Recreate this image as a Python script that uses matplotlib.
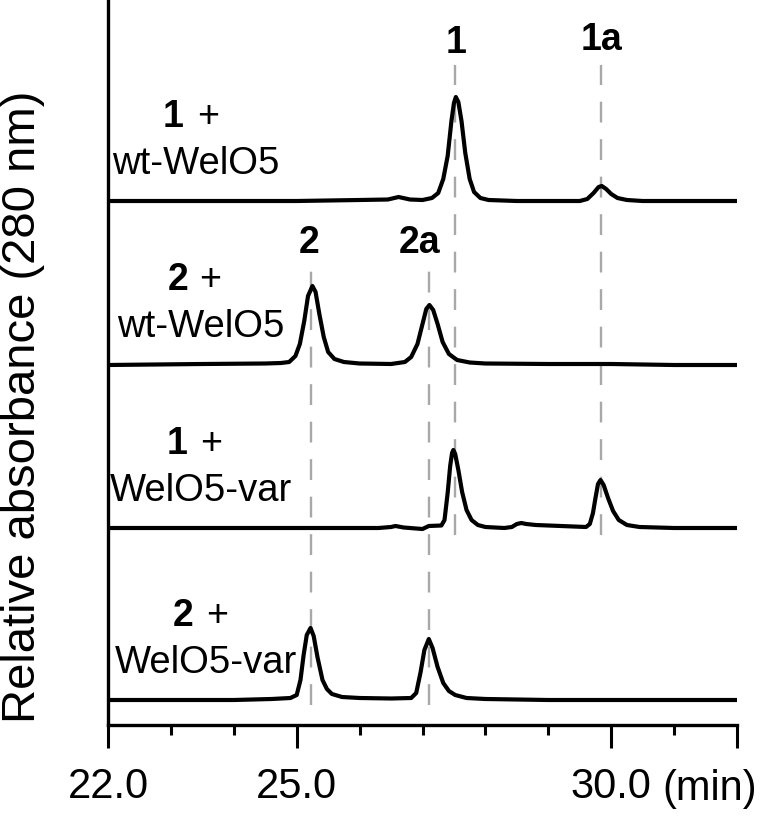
import matplotlib
matplotlib.use('Agg')
import matplotlib.pyplot as plt

plt.rcParams['font.family'] = ['Liberation Sans', 'DejaVu Sans']
plt.rcParams['lines.scale_dashes'] = False
plt.rcParams['axes.linewidth'] = 2.4
plt.rcParams['text.color'] = 'k'

# retention time (min) and relative absorbance of each run
t_1wt = [22.0, 23.5, 25.0, 26.0, 26.45, 26.62, 26.8, 27.0, 27.15, 27.25, 27.33, 27.40, 27.46, 27.50, 27.53, 27.57,
         27.62, 27.68, 27.75, 27.82, 27.92, 28.05, 28.5, 29.0, 29.5, 29.62, 29.72, 29.80, 29.85, 29.92, 30.0, 30.1,
         30.25, 30.5, 31.0, 32.0]
a_1wt = [0.0, 0.0, 0.0, 0.01, 0.015, 0.04, 0.015, 0.01, 0.03, 0.08, 0.22, 0.45, 0.80, 0.98, 1.04, 0.99,
         0.80, 0.48, 0.22, 0.09, 0.03, 0.01, 0.0, 0.0, 0.0, 0.02, 0.08, 0.14, 0.15, 0.12, 0.07, 0.03,
         0.01, 0.0, 0.0, 0.0]

t_2wt = [22.0, 23.5, 24.5, 24.75, 24.88, 24.98, 25.05, 25.12, 25.18, 25.25, 25.30, 25.36, 25.43, 25.50, 25.60,
         25.75, 26.0, 26.5, 26.72, 26.82, 26.92, 27.00, 27.06, 27.11, 27.17, 27.24, 27.32, 27.42, 27.55, 27.75,
         28.0, 29.0, 30.0, 31.0, 32.0]
a_2wt = [-0.01, 0.0, 0.005, 0.01, 0.02, 0.08, 0.20, 0.43, 0.68, 0.78, 0.72, 0.50, 0.27, 0.12, 0.05,
         0.02, 0.005, 0.0, 0.02, 0.07, 0.20, 0.40, 0.55, 0.59, 0.54, 0.40, 0.22, 0.10, 0.04, 0.015,
         0.005, 0.0, 0.0, -0.01, -0.01]

t_1var = [22.0, 24.0, 26.3, 26.5, 26.57, 26.7, 27.0, 27.1, 27.30, 27.35, 27.40, 27.44, 27.47, 27.49, 27.52, 27.57,
          27.63, 27.70, 27.78, 27.88, 28.0, 28.3, 28.42, 28.50, 28.57, 28.65, 28.8, 29.2, 29.6, 29.66, 29.71,
          29.75, 29.79, 29.83, 29.88, 29.95, 30.03, 30.12, 30.25, 30.45, 31.0, 32.0]
a_1var = [0.0, 0.0, 0.0, 0.01, 0.02, 0.005, -0.01, 0.02, 0.025, 0.08, 0.35, 0.62, 0.75, 0.78, 0.74, 0.58,
          0.36, 0.18, 0.08, 0.03, 0.01, 0.0, 0.01, 0.04, 0.05, 0.04, 0.03, 0.02, 0.01, 0.04, 0.15,
          0.30, 0.44, 0.48, 0.43, 0.30, 0.17, 0.08, 0.03, 0.01, 0.0, 0.0]

t_2var = [22.0, 24.0, 24.6, 24.9, 25.0, 25.06, 25.11, 25.16, 25.22, 25.27, 25.33, 25.41, 25.48, 25.56, 25.72,
          26.0, 26.5, 26.82, 26.90, 26.97, 27.03, 27.10, 27.16, 27.24, 27.33, 27.42, 27.52, 27.70, 28.0, 29.0, 32.0]
a_2var = [0.0, 0.0, 0.01, 0.02, 0.05, 0.20, 0.45, 0.65, 0.72, 0.64, 0.43, 0.20, 0.11, 0.06, 0.03,
          0.02, 0.015, 0.02, 0.07, 0.28, 0.50, 0.61, 0.52, 0.33, 0.17, 0.09, 0.05, 0.02, 0.01, 0.0, 0.0]

substrates = ['1', '2', '1', '2']
enzymes = ['wt-WelO5', 'wt-WelO5', 'WelO5-var', 'WelO5-var']
peak_names = ['1', '1a', '2', '2a']
peak_times = [27.52, 29.84, 25.23, 27.10]

xticks = [22, 25, 30, 32]
xticklabels = ['22.0', '25.0', '30.0', '']
xminor = [23, 24, 26, 27, 28, 29, 31]

# layout
baselines = [5.24, 3.61, 1.97, 0.25]          # vertical stacking of the runs
sub_x = [23.04, 23.11, 23.10, 23.19]
plus_x = [23.59, 23.62, 23.64, 23.74]
enz_x = [23.40, 23.47, 23.48, 23.56]
peak_label_x = [27.53, 29.85, 25.20, 26.95]
peak_label_y = [6.72, 6.75, 4.72, 4.72]
peak_line_y = [(1.90, 6.60), (1.90, 6.60), (0.20, 4.57), (0.20, 4.57)]

fig = plt.figure(figsize=(7.6, 8.16), dpi=100)
ax = fig.add_axes([108/760, 91/816, 629/760, 725/816])

runs = [(t_1wt, a_1wt), (t_2wt, a_2wt), (t_1var, a_1var), (t_2var, a_2var)]
for (t, a), b in zip(runs, baselines):
    ax.plot(t, [v + b for v in a], color='k', lw=3.0, solid_joinstyle='round', solid_capstyle='round', zorder=3)

for i, name in enumerate(peak_names):
    ax.plot([peak_times[i], peak_times[i]], peak_line_y[i], color='#a8a8a8', lw=1.7, dashes=(15, 12), zorder=2)
    ax.text(peak_label_x[i], peak_label_y[i], name, fontsize=27, fontweight='bold', ha='center', va='baseline')

for i in range(4):
    b = baselines[i]
    ax.text(sub_x[i], b + 0.74, substrates[i], fontsize=27, fontweight='bold', ha='center', va='baseline')
    ax.text(plus_x[i], b + 0.74, '+', fontsize=27, ha='center', va='baseline')
    ax.text(enz_x[i], b + 0.27, enzymes[i], fontsize=27.5, ha='center', va='baseline')

ax.set_xlim(22, 32)
ax.set_ylim(0, 7.25)
ax.spines['top'].set_visible(False)
ax.spines['right'].set_visible(False)
ax.set_yticks([])
ax.set_xticks(xticks, xticklabels)
ax.set_xticks(xminor, minor=True)
ax.tick_params(axis='x', which='major', length=16.5, width=2.2, labelsize=30, pad=14)
ax.tick_params(axis='x', which='minor', length=7, width=2.2)

fig.text(662/760, 1 - 800/816, '(min)', fontsize=30, va='baseline', ha='left')
fig.text(23/760, 1 - 407/816, 'Relative absorbance (280 nm)', fontsize=34, rotation=90, ha='center', va='center')

fig.savefig('out.png', dpi=100)
